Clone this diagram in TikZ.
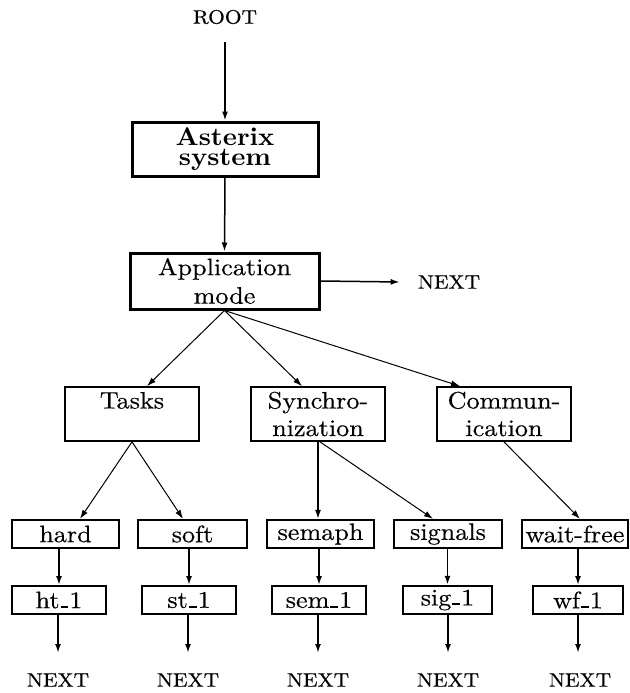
\documentclass[tikz,border=0pt]{standalone}
\usepackage{fontspec}
\usetikzlibrary{arrows.meta}
\newfontfamily\widefont{lmroman10-regular.otf}[FakeStretch=1.1,FakeBold=0.4]
\newfontfamily\boldwide{lmroman10-bold.otf}[FakeStretch=1.05]
\newcommand\usc{\kern0.04em\rule{0.33em}{0.09em}\kern0.04em}
\begin{document}
\begin{tikzpicture}[x=1pt,y=-1pt,
  tip/.style={-{Latex[length=9pt,width=6pt]}},
  big/.style={font=\widefont\fontsize{23.8}{27.5}\selectfont},
  caps/.style={font=\widefont\fontsize{19.5}{22}\selectfont, inner sep=0pt},
  bx/.style={draw, big, rectangle, inner sep=0pt, align=center, line width=1.7pt},
  topbox/.style={bx, minimum width=186pt, minimum height=54pt, line width=3pt},
  midbox/.style={bx, minimum width=134pt, minimum height=54pt},
  leafbox/.style={bx, minimum height=28pt, line width=2.3pt},
  subbox/.style={bx, minimum height=28pt, line width=1.8pt},
  diag/.style={tip, line width=1pt},
  vert/.style={tip, line width=1.8pt}]
\useasboundingbox (0,0) rectangle (629,693);

\node[caps] (root) at (225,17) {ROOT};
\node[topbox, font=\boldwide\fontsize{25.5}{20.5}\selectfont] (ast) at (225,149) {Asterix\\system};
\node[topbox, minimum width=189pt, minimum height=56pt, font=\widefont\fontsize{23.8}{28.5}\selectfont] (app) at (224.5,281) {Application\\mode};
\node[caps] (next0) at (449,282) {NEXT};

\node[midbox] (tasks) at (132,414) {Tasks\\\mbox{}};
\node[midbox] (sync) at (318,414) {Synchro-\\nization};
\node[midbox] (comm) at (504,414) {Commun-\\ication};

\node[leafbox, minimum width=107pt] (hard) at (65.5,534) {hard};
\node[leafbox, minimum width=109pt] (soft) at (192.5,534) {soft};
\node[leafbox, minimum width=107pt] (semaph) at (320.5,534) {semaph};
\node[leafbox, minimum width=108pt] (signals) at (448,534) {signals};
\node[leafbox, minimum width=106pt] (wait) at (575,534) {wait-free};

\node[subbox, minimum width=94pt] (ht) at (59,600) {ht\usc1};
\node[subbox, minimum width=94pt] (st) at (189,600) {st\usc1};
\node[subbox, minimum width=94pt] (sem) at (319,600) {sem\usc1};
\node[subbox, minimum width=89pt, line width=2.3pt] (sig) at (447.5,600) {sig\usc1};
\node[subbox, minimum width=90pt] (wf) at (578,600) {wf\usc1};

\node[caps] (n1) at (58,680) {NEXT};
\node[caps] (n2) at (188,680) {NEXT};
\node[caps] (n3) at (318,680) {NEXT};
\node[caps] (n4) at (448,680) {NEXT};
\node[caps] (n5) at (580,680) {NEXT};

\coordinate (e1) at (58,653);
\coordinate (e2) at (188,653);
\coordinate (e3) at (318,653);
\coordinate (e4) at (448,653);
\coordinate (e5) at (578,653);
\coordinate (rootend) at (225,42);

% top arrows
\draw[vert, line width=1.5pt] (rootend) -- (ast.north);
\draw[vert, line width=1.5pt] (ast.south) -- (app.north);
\draw[vert, line width=1.5pt] (app.east) -- ([xshift=-18pt]next0.west);

% application to categories
\draw[diag] (app.south) -- ([xshift=15pt]tasks.north);
\draw[diag] (app.south) -- ([xshift=-16pt]sync.north);
\draw[diag] (app.south) -- ([xshift=-44pt]comm.north);

% categories to leaves
\draw[diag] (tasks.south) -- ([xshift=14.5pt]hard.north);
\draw[diag] (tasks.south) -- ([xshift=-9.5pt]soft.north);
\draw[vert, line width=1.4pt] (sync.south) -- (sync.south |- semaph.north);
\draw[diag] ([xshift=2pt]sync.south) -- ([xshift=-15pt]signals.north);
\draw[diag] (comm.south) -- ([xshift=5pt]wait.north);

% leaves to sub
\draw[vert] (ht.north |- hard.south) -- (ht.north);
\draw[vert] (st.north |- soft.south) -- (st.north);
\draw[vert] (sem.north |- semaph.south) -- (sem.north);
\draw[vert] (sig.north |- signals.south) -- (sig.north);
\draw[vert] (wf.north |- wait.south) -- (wf.north);

% sub to NEXT
\draw[vert] (ht.south -| e1) -- (e1);
\draw[vert] (st.south -| e2) -- (e2);
\draw[vert] (sem.south -| e3) -- (e3);
\draw[vert] (sig.south -| e4) -- (e4);
\draw[vert] (wf.south -| e5) -- (e5);
\end{tikzpicture}
\end{document}
